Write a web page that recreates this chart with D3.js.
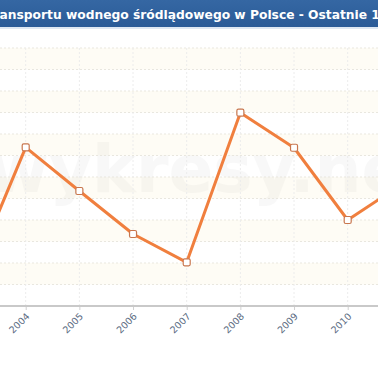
<!DOCTYPE html>
<html><head><meta charset="utf-8">
<script src="https://cdn.jsdelivr.net/npm/d3@7"></script>
<style>html,body{margin:0;padding:0;background:#fff;overflow:hidden}</style>
</head><body>
<svg id="c" width="378" height="370"></svg>
<script>
const title = "Przewozy transportu wodnego śródlądowego w Polsce - Ostatnie 10 lat";
const years = [2003, 2004, 2005, 2006, 2007, 2008, 2009, 2010, 2011];
const values = [139, 738, 535, 335, 203, 899, 736, 400, 565];
const tickYears = [2004, 2005, 2006, 2007, 2008, 2009, 2010];
const yTicks = [0,100,200,300,400,500,600,700,800,900,1000,1100,1200];

const svg = d3.select("#c");
const x = d3.scaleLinear().domain([2004, 2010]).range([25.7, 347.7]);
const y = d3.scaleLinear().domain([0, 1200]).range([306, 48]);

// alternating bands
const bands = yTicks.slice(0, -1).map((v, i) => [v, yTicks[i + 1], i]);
svg.append("g").selectAll("rect").data(bands.filter(b => b[2] % 2 === 1)).join("rect")
  .attr("x", 0).attr("width", 378)
  .attr("y", d => y(d[1])).attr("height", d => y(d[0]) - y(d[1]))
  .attr("fill", "#fefcf5");

// watermark
svg.append("text").attr("x", -12).attr("y", 192)
  .attr("font-family", "DejaVu Sans").attr("font-weight", "bold").attr("font-size", 66)
  .attr("fill", "#000").attr("opacity", 0.025).text("wykresy.net");

// horizontal grid
svg.append("g").selectAll("line").data(yTicks.slice(1)).join("line")
  .attr("x1", 0).attr("x2", 378).attr("y1", d => y(d)).attr("y2", d => y(d))
  .attr("stroke", "#e9e7df").attr("stroke-dasharray", "2,2");
// vertical grid
svg.append("g").selectAll("line").data(tickYears).join("line")
  .attr("x1", d => x(d)).attr("x2", d => x(d)).attr("y1", y(1200)).attr("y2", y(0))
  .attr("stroke", "#ececec").attr("stroke-dasharray", "2,2");

// x axis
const xAxis = d3.axisBottom(x).tickValues(tickYears).tickFormat(d3.format("d")).tickSize(4).tickPadding(3);
const ax = svg.append("g").attr("transform", `translate(0,${y(0)})`).call(xAxis);
ax.select(".domain").remove();
ax.append("line").attr("x1", 0).attr("x2", 378).attr("stroke", "#c9c9c9").attr("stroke-width", 2);
ax.selectAll(".tick line").attr("stroke", "#d0d0d0");
ax.selectAll(".tick text")
  .attr("font-family", "DejaVu Sans").attr("font-size", 9.5).attr("fill", "#5b6b82")
  .attr("text-anchor", "end").attr("dy", 0).attr("y", 0)
  .attr("transform", "translate(4,11) rotate(-45)");

// line
svg.append("path").datum(years.map((yr, i) => [yr, values[i]]))
  .attr("fill", "none").attr("stroke", "#f07f3e").attr("stroke-width", 3)
  .attr("stroke-linejoin", "round")
  .attr("d", d3.line().x(d => x(d[0])).y(d => y(d[1])));
svg.append("g").selectAll("rect").data(years.map((yr, i) => [yr, values[i]])).join("rect")
  .attr("x", d => x(d[0]) - 3.5).attr("y", d => y(d[1]) - 3.5)
  .attr("width", 7).attr("height", 7).attr("rx", 1.5)
  .attr("fill", "#fff").attr("stroke", "#c8764e").attr("stroke-width", 1.2);

// title bar
const grad = svg.append("defs").append("linearGradient").attr("id", "tg").attr("x1", 0).attr("x2", 0).attr("y1", 0).attr("y2", 1);
grad.append("stop").attr("offset", 0).attr("stop-color", "#3567a3");
grad.append("stop").attr("offset", 1).attr("stop-color", "#2b5b97");
svg.append("rect").attr("x", 0).attr("y", 0).attr("width", 378).attr("height", 27).attr("fill", "url(#tg)");
svg.append("line").attr("x1", 0).attr("x2", 378).attr("y1", 28).attr("y2", 28).attr("stroke", "#dfe8f3").attr("stroke-width", 2);
const t = svg.append("text").attr("y", 18.5)
  .attr("font-family", "DejaVu Sans").attr("font-weight", "bold").attr("font-size", 11)
  .attr("fill", "#fff").text(title);
const i0 = title.indexOf("ansportu");
const i1 = title.indexOf("Ostatnie 1") + "Ostatnie 1".length;
const visLen = t.node().getSubStringLength(i0, i1 - i0);
const fs = 11 * 381 / visLen;
t.attr("font-size", fs);
const off = t.node().getSubStringLength(0, i0);
t.attr("x", -off - 0.5);
</script>
</body></html>
